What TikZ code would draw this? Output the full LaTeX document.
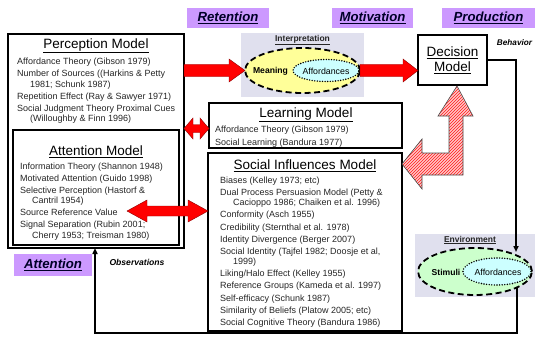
\documentclass[tikz,border=0pt]{standalone}
\usepackage{fontspec}
\setmainfont{Liberation Sans}
\usetikzlibrary{calc,arrows.meta,patterns,shapes.geometric}

\definecolor{labelpurple}{RGB}{204,153,255}
\definecolor{panelgray}{RGB}{224,224,238}
\definecolor{meanyellow}{RGB}{255,255,153}
\definecolor{stimgreen}{RGB}{204,255,204}
\definecolor{affcyan}{RGB}{204,255,255}
\definecolor{arrowred}{RGB}{255,0,0}
\definecolor{navytext}{RGB}{0,0,40}

% horizontal block arrow pointing right: start, end, body half-height, head half-height, head length
\newcommand{\blockright}[5]{%
  \draw[redarrow] let \p1=#1, \p2=#2 in
    (\x1,\y1+#3) -- (\x2-#5,\y1+#3) -- (\x2-#5,\y1+#4) -- (\x2,\y1)
    -- (\x2-#5,\y1-#4) -- (\x2-#5,\y1-#3) -- (\x1,\y1-#3) -- cycle;}
% horizontal block arrow with heads at both ends
\newcommand{\blockboth}[5]{%
  \draw[redarrow] let \p1=#1, \p2=#2 in
    (\x1,\y1) -- (\x1+#5,\y1+#4) -- (\x1+#5,\y1+#3) -- (\x2-#5,\y1+#3)
    -- (\x2-#5,\y1+#4) -- (\x2,\y1) -- (\x2-#5,\y1-#4) -- (\x2-#5,\y1-#3)
    -- (\x1+#5,\y1-#3) -- (\x1+#5,\y1-#4) -- cycle;}

\begin{document}
\begin{tikzpicture}[x=1pt,y=-1pt,
  modelbox/.style={draw=black, line width=1.6pt, fill=white, inner sep=0pt, outer sep=0pt},
  stagelabel/.style={fill=labelpurple, inner sep=0pt, text=navytext,
    font=\fontsize{13.2}{15}\selectfont\bfseries\itshape},
  panel/.style={fill=panelgray, inner sep=0pt},
  modeltitle/.style={inner sep=0pt, font=\fontsize{13.5}{15}\selectfont},
  bodytext/.style={inner sep=0pt, anchor=north west, align=left,
    font=\fontsize{9}{10.5}\selectfont, text=black!85},
  paneltitle/.style={inner sep=0pt, font=\fontsize{8.5}{10}\selectfont\bfseries, text=black!85},
  dashell/.style={ellipse, draw=black, line width=1.8pt, dash pattern=on 6pt off 3.5pt, inner sep=0pt, outer sep=0pt},
  dotell/.style={ellipse, draw=black, line width=1.6pt, dash pattern=on 0pt off 2.6pt, line cap=round, inner sep=0pt},
  elltext/.style={inner sep=0pt, font=\fontsize{8.8}{10}\selectfont},
  boldelltext/.style={inner sep=0pt, font=\fontsize{8.6}{10}\selectfont\bfseries},
  smalltag/.style={inner sep=0pt, font=\fontsize{8.2}{9}\selectfont\bfseries\itshape},
  feedback/.style={draw=black, line width=1.5pt, -{Triangle[length=6pt,width=5pt]}},
  redarrow/.style={fill=arrowred, draw=red!55!black, line width=0.4pt, line join=miter},
  hatcharrow/.style={draw=gray!60!black, line width=0.6pt, preaction={fill=red!22},
    pattern=north east lines, pattern color=red!90},
]
\useasboundingbox (0,0) rectangle (535,337);

% stage labels
\node[stagelabel, minimum width=82, minimum height=20] (ret) at (228,18) {\underline{Retention}};
\node[stagelabel, minimum width=81, minimum height=20] (mot) at (372.5,18) {\underline{Motivation}};
\node[stagelabel, minimum width=93, minimum height=20] (prod) at (488.5,18) {\underline{Production}};
\node[stagelabel, minimum width=78, minimum height=22] (att) at (53,265) {\underline{Attention}};

% interpretation panel
\node[panel, minimum width=123, minimum height=64] (interp) at (302.5,65) {};
\node[paneltitle] (interptitle) at (302.5,40) {\underline{Interpretation}};
\node[dashell, fill=meanyellow, minimum width=115, minimum height=45] (meanell) at (302.5,70.5) {};
\node[dotell, fill=affcyan, minimum width=66, minimum height=22] (affell) at (326,70.5) {};
\node[boldelltext] (meaning) at (270.5,71) {Meaning};
\node[elltext] (afftext) at (326,71) {Affordances};

% environment panel
\node[panel, minimum width=120, minimum height=63] (env) at (475,265.5) {};
\node[paneltitle] (envtitle) at (470,240) {\underline{Environment}};
\node[dashell, fill=stimgreen, minimum width=114, minimum height=47] (stimell) at (475,271.5) {};
\node[dotell, fill=affcyan, minimum width=68, minimum height=27] (envaffell) at (497,271.5) {};
\node[boldelltext] (stimuli) at (446,272) {Stimuli};
\node[elltext] (envafftext) at (498,272) {Affordances};

% decision model
\node[modelbox, minimum width=69, minimum height=50] (dec) at (452.5,60) {};
\node[modeltitle, align=center] (dectitle) at (452.5,60) {\underline{Decision}\\\underline{Model}};
\node[smalltag] (behavior) at (514.5,43) {Behavior};

% perception model with the attention model inside
\node[modelbox, minimum width=176, minimum height=214] (perc) at (96,141) {};
\node[modeltitle] (perctitle) at (96,46) {\underline{Perception Model}};
\node[bodytext] (percbody) at (17,58) {Affordance Theory (Gibson 1979)\\[1.5pt]
Number of Sources ((Harkins \& Petty\\
\hspace*{13pt}1981; Schunk 1987)\\[1.5pt]
Repetition Effect (Ray \& Sawyer 1971)\\[1.5pt]
Social Judgment Theory Proximal Cues\\
\hspace*{13pt}(Willoughby \& Finn 1996)};

\node[modelbox, minimum width=166, minimum height=115] (attn) at (96,187.5) {};
\node[modeltitle] (attntitle) at (96,152) {\underline{Attention Model}};
\node[bodytext] (attnbody) at (20,162.5) {Information Theory (Shannon 1948)\\[1.5pt]
Motivated Attention (Guido 1998)\\[1.5pt]
Selective Perception (Hastorf \&\\
\hspace*{12pt}Cantril 1954)\\[1.5pt]
Source Reference Value\\[1.5pt]
Signal Separation (Rubin 2001;\\
\hspace*{12pt}Cherry 1953; Treisman 1980)};

% learning model
\node[modelbox, minimum width=193, minimum height=45] (learn) at (305.5,125.5) {};
\node[modeltitle] (learntitle) at (306,115) {\underline{Learning Model}};
\node[bodytext] (learnbody) at (215,125.5) {Affordance Theory (Gibson 1979)\\[2.5pt]
Social Learning (Bandura 1977)};

% social influences model
\node[modelbox, minimum width=194, minimum height=178] (social) at (305,242) {};
\node[modeltitle] (socialtitle) at (305,166) {\underline{Social Influences Model}};
\node[bodytext] (socialbody) at (220,176.5) {Biases (Kelley 1973; etc)\\[1.6pt]
Dual Process Persuasion Model (Petty \&\\
\hspace*{13pt}Cacioppo 1986; Chaiken et al. 1996)\\[1.6pt]
Conformity (Asch 1955)\\[1.6pt]
Credibility (Sternthal et al. 1978)\\[1.6pt]
Identity Divergence (Berger 2007)\\[1.6pt]
Social Identity (Tajfel 1982; Doosje et al,\\
\hspace*{13pt}1999)\\[1.6pt]
Liking/Halo Effect (Kelley 1955)\\[1.6pt]
Reference Groups (Kameda et al. 1997)\\[1.6pt]
Self-efficacy (Schunk 1987)\\[1.6pt]
Similarity of Beliefs (Platow 2005; etc)\\[1.6pt]
Social Cognitive Theory (Bandura 1986)};

\node[smalltag, font=\fontsize{8.6}{10}\selectfont\bfseries\itshape] (observations) at (137,262) {Observations};

% red block arrows
\blockright{(perc.east |- meanell.west)}{(meanell.west)}{6pt}{11.5pt}{16pt}
\blockright{(meanell.east)}{(meanell.east -| dec.west)}{6pt}{11.5pt}{15pt}
\coordinate (plmid) at (0,128.5);
\blockboth{(perc.east |- plmid)}{(learn.west |- plmid)}{4pt}{10.5pt}{9pt}
\coordinate (astip) at (127,211);
\blockboth{(astip)}{(astip -| social.west)}{5pt}{11pt}{20pt}

% hatched bent arrow between social influences and decision
\draw[hatcharrow] (457,86) -- (473,116) -- (463,116) -- (463,175) -- (422,175)
  -- (422,189) -- (402,164) -- (422,139) -- (422,153) -- (449,153) -- (449,116)
  -- (438,116) -- cycle;

% behaviour and observation feedback lines
\coordinate (envtip) at (516,252);
\draw[feedback] (dec.east) -| (envtip);
\coordinate (envout) at (517,288);
\coordinate (retbot) at (95,333);
\draw[feedback] (envout) |- (retbot) -- (retbot |- perc.south);
\end{tikzpicture}
\end{document}
